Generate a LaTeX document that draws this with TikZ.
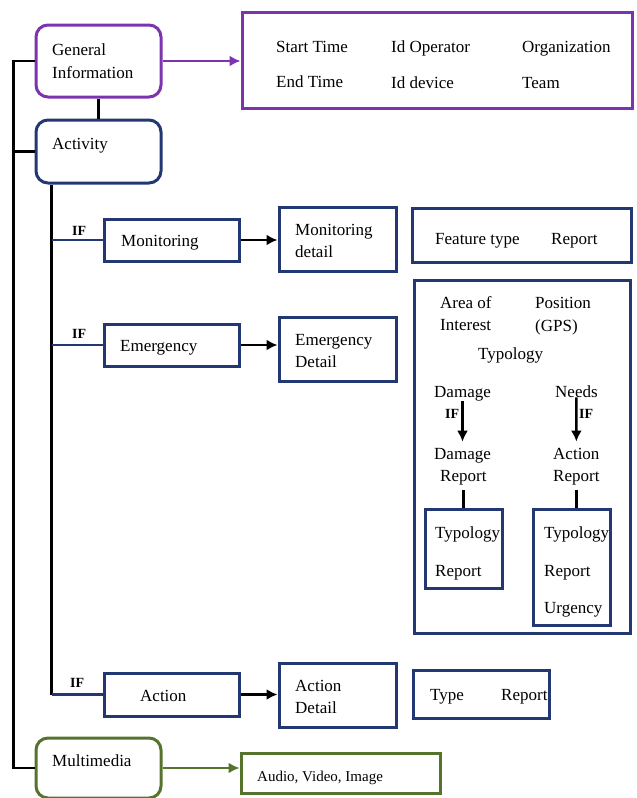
\documentclass[tikz,border=0pt]{standalone}
\usepackage{fontspec}
\setmainfont{Liberation Serif}
\usetikzlibrary{shapes,arrows.meta}

\definecolor{genpurple}{RGB}{125,50,175}
\definecolor{actblue}{RGB}{35,55,115}
\definecolor{mediagreen}{RGB}{85,115,45}

\begin{document}
\begin{tikzpicture}[x=1pt,y=-1pt,
    font=\fontsize{17}{20}\selectfont,
    box/.style={draw=actblue, line width=3pt, inner sep=0pt},
    rbox/.style={box, rounded corners=12pt},
    txt/.style={anchor=base west, inner sep=0pt},
    iflabel/.style={txt, font=\fontsize{14}{16}\selectfont\bfseries},
    wire/.style={line width=2.4pt},
    link/.style={wire, -{Latex[length=11pt,width=11pt]}}]
\useasboundingbox (0,0) rectangle (637,798);

% top level blocks
\node[rbox, draw=genpurple, minimum width=125, minimum height=72] (geninfo) at (98.5,61) {};
\node[rbox, minimum width=125, minimum height=63] (activity) at (98.5,151.5) {};
\node[rbox, draw=mediagreen, minimum width=125, minimum height=60] (media) at (98.5,768) {};
\node[txt] (geninfoA) at (52,55) {General};
\node[txt] (geninfoB) at (52,78) {Information};
\node[txt] (activityA) at (52,149) {Activity};
\node[txt] (mediaA) at (52,766) {Multimedia};

% general information fields
\node[box, draw=genpurple, minimum width=390, minimum height=96] (genlist) at (437,60) {};
\foreach \x/\y/\t [count=\i] in {276/52/Start Time, 276/87/End Time, 391/52/Id Operator,
    391/88/Id device, 522/52/Organization, 522/88/Team} {
  \node[txt] (gen\i) at (\x,\y) {\t};
}

% activity kinds
\node[box, minimum width=135, minimum height=42] (monitor) at (171.5,240) {};
\node[box, minimum width=135, minimum height=42] (emerg) at (171.5,345) {};
\node[box, minimum width=135, minimum height=43] (action) at (171.5,694.5) {};
\node[txt] (monitorA) at (121,246) {Monitoring};
\node[txt] (emergA) at (120,351) {Emergency};
\node[txt] (actionA) at (140,701) {Action};

% details
\node[box, minimum width=117, minimum height=64] (monitordet) at (337.5,239) {};
\node[box, minimum width=117, minimum height=64] (emergdet) at (337.5,349) {};
\node[box, minimum width=117, minimum height=64] (actiondet) at (337.5,695) {};
\node[txt] (monitordetA) at (295,235) {Monitoring};
\node[txt] (monitordetB) at (295,257) {detail};
\node[txt] (emergdetA) at (295,345) {Emergency};
\node[txt] (emergdetB) at (295,367) {Detail};
\node[txt] (actiondetA) at (295,691) {Action};
\node[txt] (actiondetB) at (295,713) {Detail};

% detail fields
\node[box, minimum width=219, minimum height=54] (monitorlist) at (521.5,235) {};
\node[txt] (featA) at (435,244) {Feature type};
\node[txt] (featB) at (551,244) {Report};

\node[box, minimum width=136, minimum height=48] (actionlist) at (481,694) {};
\node[txt] (typeA) at (430,700) {Type};
\node[txt] (typeB) at (501,700) {Report};

\node[box, draw=mediagreen, minimum width=199, minimum height=40] (medialist) at (340.5,773) {};
\node[txt, font=\fontsize{15}{18}\selectfont] (mediafmt) at (257,781) {Audio, Video, Image};

% emergency fields
\node[box, minimum width=216, minimum height=353] (emerglist) at (522,456.5) {};
\node[txt] (areaA) at (440,308) {Area of};
\node[txt] (areaB) at (440,330) {Interest};
\node[txt] (posA) at (535,308) {Position};
\node[txt] (posB) at (535,331) {(GPS)};
\node[txt] (typol) at (478,359) {Typology};
\node[txt] (damage) at (434,397) {Damage};
\node[txt] (needs) at (555,397) {Needs};
\node[txt] (damagerep) at (434,459) {Damage};
\node[txt] (damagerepB) at (440,481) {Report};
\node[txt] (actionrep) at (553,459) {Action};
\node[txt] (actionrepB) at (553,481) {Report};
\node[iflabel] (ifdamage) at (445,418) {IF};
\node[iflabel] (ifneeds) at (579,418) {IF};

\node[box, minimum width=77, minimum height=79] (damagetyp) at (463.5,548.5) {};
\node[txt] (damagetypA) at (435,538) {Typology};
\node[txt] (damagetypB) at (435,576) {Report};
\node[box, minimum width=77, minimum height=116] (actiontyp) at (571.5,567) {};
\node[txt] (actiontypA) at (544,538) {Typology};
\node[txt] (actiontypB) at (544,576) {Report};
\node[txt] (actiontypC) at (544,613) {Urgency};

% links
\draw[link, genpurple] (geninfo.east) -- (geninfo.east -| genlist.west);
\draw[wire] (geninfo.south) -- (activity.north);
\draw[wire] (geninfo.west) -- ++(-21,0) coordinate (bus) |- (media.west);
\draw[wire] (activity.west) -- (activity.west -| bus);
\draw[link, mediagreen] (media.east) -- (media.east -| medialist.west);

\path (activity.south west) ++(17,0) coordinate (ifbus);
\draw[wire] (ifbus) -- (ifbus |- action.west);
\foreach \n in {monitor, emerg, action} {
  \draw[wire, actblue] (ifbus |- \n.west) -- (\n.west);
  \draw[link] (\n.east) -- (\n.east -| \n det.west);
}
\node[iflabel] (ifmon) at (72,235) {IF};
\node[iflabel] (ifemerg) at (72,338) {IF};
\node[iflabel] (ifaction) at (70,687) {IF};

\draw[link, shorten >=6pt] (damage.south) -- (damagerep.north);
\draw[link, shorten >=6pt] (needs.south) -- (actionrep.north);
\draw[wire] (damagerepB.south) ++(0,5) -- (damagerepB.south |- damagetyp.north);
\draw[wire] (actionrepB.south) ++(0,5) -- (actionrepB.south |- actiontyp.north);
\end{tikzpicture}
\end{document}
